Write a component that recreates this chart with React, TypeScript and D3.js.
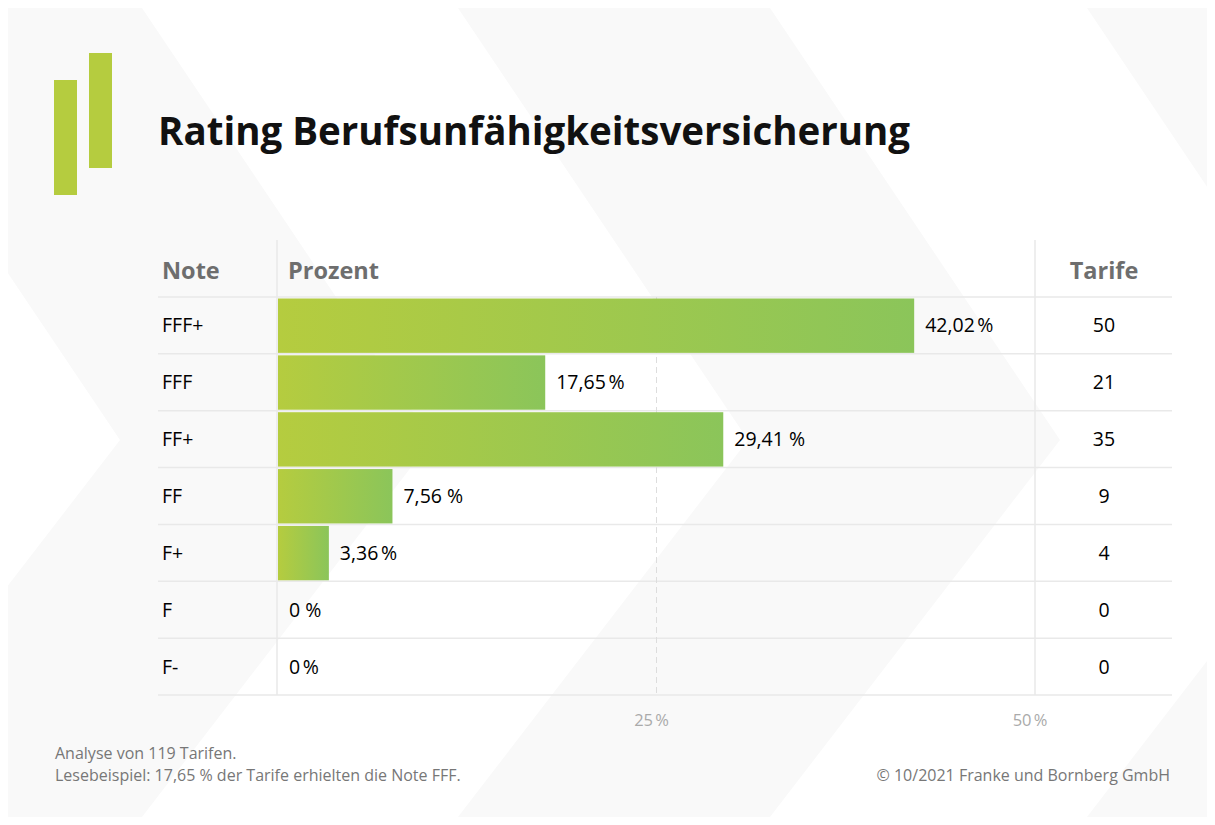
import React, { useEffect } from 'react';
import * as d3 from 'd3';

const notes = ['FFF+', 'FFF', 'FF+', 'FF', 'F+', 'F', 'F-'];
const percents = [42.02, 17.65, 29.41, 7.56, 3.36, 0, 0];
const percentLabels = ['42,02\u202F%', '17,65\u202F%', '29,41 %', '7,56 %', '3,36\u202F%', '0 %', '0\u202F%'];
const tarife = [50, 21, 35, 9, 4, 0, 0];
const ticks = [25, 50];
const tickLabels = ['25\u202F%', '50\u202F%'];

const W = 1215;
const H = 825;
const FONT = '"Open Sans", "Noto Sans", sans-serif';

const App: React.FC = () => {
  useEffect(() => {
    document.body.style.margin = '0';
  }, []);

  const x = d3.scaleLinear().domain([0, 50]).range([278, 1035]);
  const y = d3.scaleBand<string>().domain(notes).range([297, 695]);
  const bw = y.bandwidth();

  const left = 158;
  const right = 1172;
  const tarifeX = 1104;

  // faint chevron stripes in the background
  const tipY = 440;
  const d = 290;
  const stripeStarts = [-170, 458, 1087];
  const stripeW = 312;
  const stripes = stripeStarts.map((s) => [
    [s, 8], [s + stripeW, 8], [s + stripeW + d, tipY], [s + stripeW, H - 8], [s, H - 8], [s + d, tipY],
  ] as [number, number][]);

  const rowLines = [...notes.map((n) => y(n) as number), 695];

  return (
    <svg width={W} height={H} style={{ display: 'block', fontFamily: FONT }}>
      <defs>
        <linearGradient id="barGrad" x1="0" x2="1" y1="0" y2="0">
          <stop offset="0%" stopColor="#b5cc3f" />
          <stop offset="100%" stopColor="#8bc55a" />
        </linearGradient>
        <clipPath id="bgClip">
          <rect x={8} y={8} width={W - 16} height={H - 16} />
        </clipPath>
      </defs>
      <rect x={0} y={0} width={W} height={H} fill="#fff" />
      <g clipPath="url(#bgClip)">
        {stripes.map((p, i) => (
          <path key={i} d={d3.line()(p) + 'Z'} fill="#f9f9f9" />
        ))}
      </g>

      {/* logo */}
      <rect x={54} y={80} width={23} height={115} fill="#b5cc3f" />
      <rect x={89} y={53} width={23} height={115} fill="#b5cc3f" />

      <text x={158} y={145} fontSize={38.5} fontWeight={700} fill="#111">
        Rating Berufsunfähigkeitsversicherung
      </text>

      {/* header */}
      <text x={162} y={279} fontSize={23.5} fontWeight={700} fill="#6e6e6e">Note</text>
      <text x={288} y={279} fontSize={23.5} fontWeight={700} fill="#6e6e6e">Prozent</text>
      <text x={tarifeX} y={279} fontSize={23.5} fontWeight={700} fill="#6e6e6e" textAnchor="middle">Tarife</text>

      {/* grid */}
      {rowLines.map((ly, i) => (
        <line key={i} x1={left} x2={right} y1={ly} y2={ly} stroke="#e9e9e9" strokeWidth={1.5} />
      ))}
      <line x1={x(0) - 1} x2={x(0) - 1} y1={240} y2={695} stroke="#e9e9e9" strokeWidth={1.5} />
      <line x1={x(50)} x2={x(50)} y1={240} y2={695} stroke="#e9e9e9" strokeWidth={1.5} />
      <line x1={x(25)} x2={x(25)} y1={297} y2={695} stroke="#dddddd" strokeWidth={1} strokeDasharray="6,4" />

      {/* bars */}
      {notes.map((n, i) => (
        <g key={n}>
          {percents[i] > 0 && (
            <rect x={x(0)} y={(y(n) as number) + 1.5} width={x(percents[i]) - x(0)} height={bw - 2.5} fill="url(#barGrad)" />
          )}
          <text x={162} y={(y(n) as number) + bw / 2 + 7} fontSize={19.5} fontWeight={500} fill="#000">{n}</text>
          <text x={x(percents[i]) + 11} y={(y(n) as number) + bw / 2 + 7} fontSize={19.5} fontWeight={500} fill="#000">
            {percentLabels[i]}
          </text>
          <text x={tarifeX} y={(y(n) as number) + bw / 2 + 7} fontSize={19.5} fontWeight={500} fill="#000" textAnchor="middle">
            {tarife[i]}
          </text>
        </g>
      ))}

      {/* ticks */}
      {ticks.map((t, i) => (
        <text key={t} x={x(t) - 5} y={726} fontSize={16.5} fill="#aaaaaa" textAnchor="middle">{tickLabels[i]}</text>
      ))}

      {/* footnotes */}
      <text x={55} y={759} fontSize={16} fill="#777">Analyse von 119 Tarifen.</text>
      <text x={55} y={781} fontSize={16} fill="#777">Lesebeispiel: 17,65 % der Tarife erhielten die Note FFF.</text>
      <text x={1170} y={781} fontSize={16} fill="#777" textAnchor="end">© 10/2021 Franke und Bornberg GmbH</text>
    </svg>
  );
};

export default App;
